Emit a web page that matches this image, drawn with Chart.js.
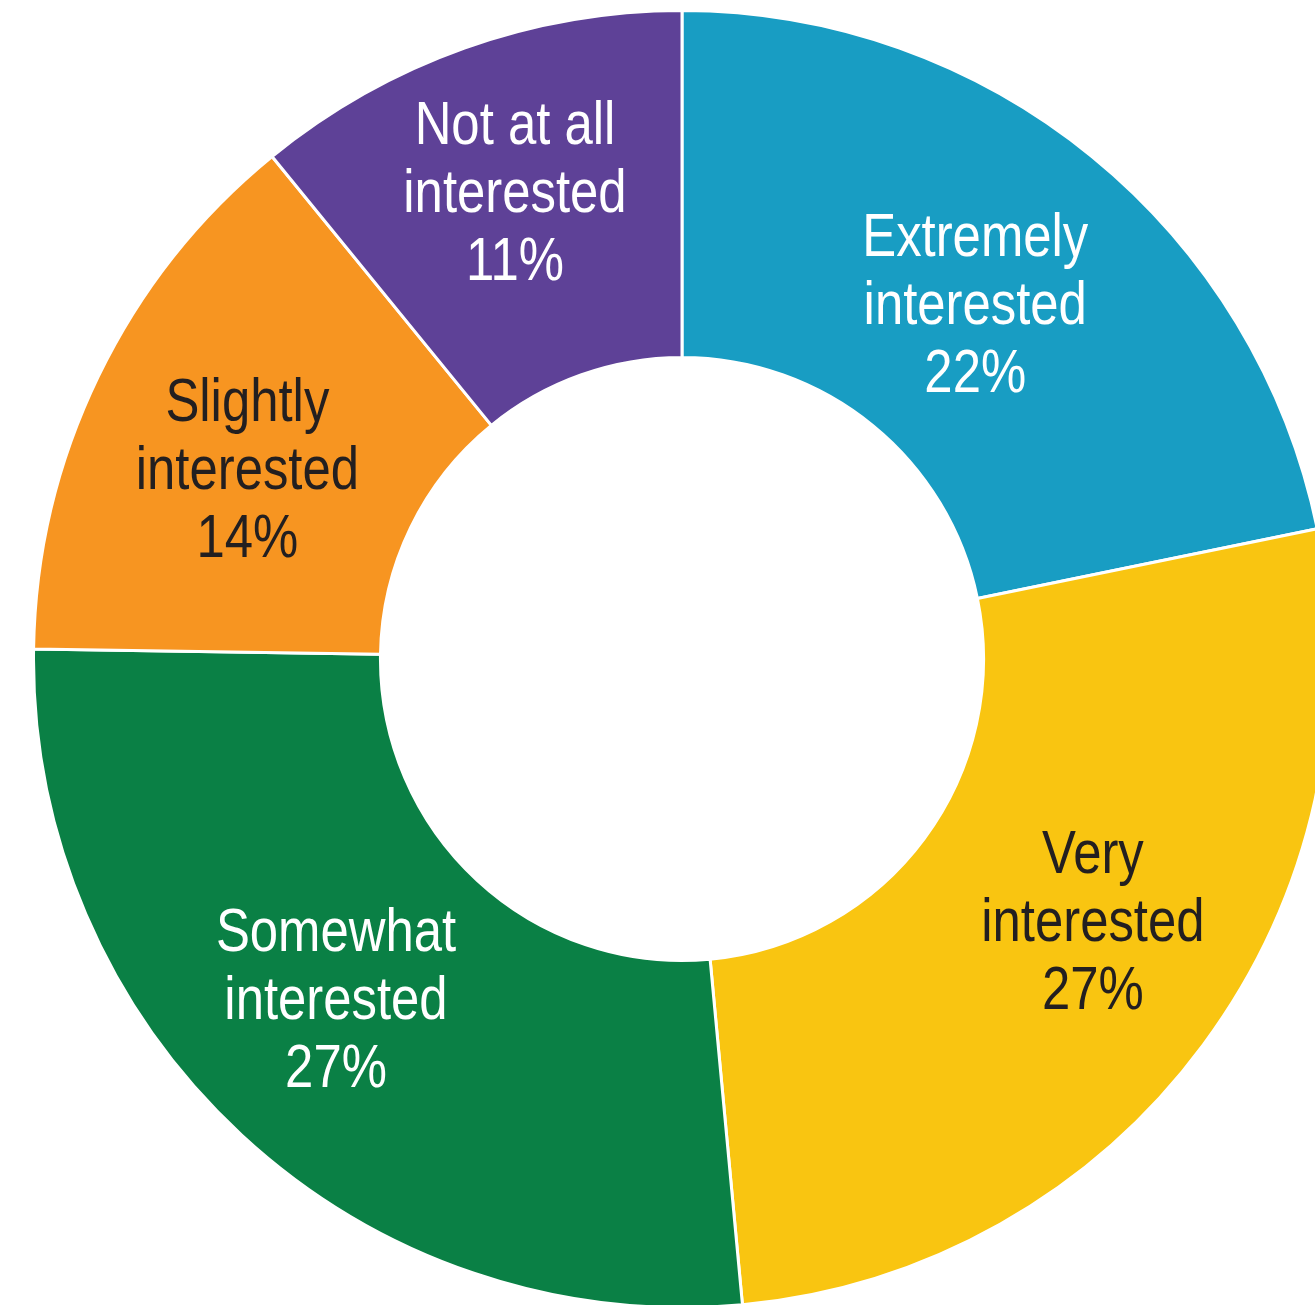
<!DOCTYPE html>
<html>
<head>
<meta charset="utf-8">
<script src="https://cdn.jsdelivr.net/npm/chart.js@4.4.1/dist/chart.umd.min.js"></script>
<style>
    html, body { margin: 0; padding: 0; background: #fff; overflow: hidden; }
    #frame { position: relative; width: 1315px; height: 1305px; overflow: hidden; }
    #holder { position: absolute; left: 32px; top: 9px; width: 1300px; height: 1300px; }
</style>
</head>
<body>
<div id="frame">
    <div id="holder"><canvas id="interestChart" width="1300" height="1300"></canvas></div>
</div>
<script>
// данные с картинки
const categories = ['Extremely interested', 'Very interested', 'Somewhat interested', 'Slightly interested', 'Not at all interested'];
const labelLines = [
    ['Extremely', 'interested'],
    ['Very', 'interested'],
    ['Somewhat', 'interested'],
    ['Slightly', 'interested'],
    ['Not at all', 'interested']
];
const shares = [22, 27, 27, 14, 11];
const sliceColors = ['#189dc3', '#f9c511', '#0a8045', '#f79521', '#5e4197'];
const textColors = ['#ffffff', '#231f20', '#ffffff', '#231f20', '#ffffff'];

// небольшие сдвиги подписей (градусы / пиксели)
const labelAngleShift = [0.6, -3.7, 2.5, -2.6, -0.2];
const labelRadiusShift = [-17, 14, 12, -2, 18];

/**
 * Подписи внутри сегментов
 */
const sliceLabels = {
    id: 'sliceLabels',
    afterDatasetsDraw(chart) {
        const ctx = chart.ctx;
        const meta = chart.getDatasetMeta(0);
        ctx.save();
        ctx.font = '62px "Liberation Sans", Arial, sans-serif';
        ctx.textAlign = 'center';
        ctx.textBaseline = 'middle';
        meta.data.forEach((arc, i) => {
            const p = arc.getProps(['x', 'y', 'startAngle', 'endAngle', 'innerRadius', 'outerRadius'], true);
            const mid = (p.startAngle + p.endAngle) / 2 + labelAngleShift[i] * Math.PI / 180;
            const r = (p.innerRadius + p.outerRadius) / 2 + labelRadiusShift[i];
            const cx = p.x + Math.cos(mid) * r;
            const cy = p.y + Math.sin(mid) * r;
            const lines = [...labelLines[i], shares[i] + '%'];
            const lh = 68;
            ctx.fillStyle = textColors[i];
            lines.forEach((t, k) => {
                ctx.save();
                ctx.translate(cx, cy + (k - (lines.length - 1) / 2) * lh);
                ctx.scale(0.82, 1); // шрифт поуже, как в оригинале
                ctx.fillText(t, 0, 0);
                ctx.restore();
            });
        });
        ctx.restore();
    }
};

new Chart(document.getElementById('interestChart').getContext('2d'), {
    type: 'doughnut',
    data: {
        labels: categories,
        datasets: [{
            data: shares,
            backgroundColor: sliceColors,
            borderColor: '#ffffff',
            borderWidth: 3
        }]
    },
    options: {
        responsive: false,
        animation: false,
        cutout: '46.5%',
        layout: { padding: 0 },
        plugins: {
            legend: { display: false },
            tooltip: { enabled: false }
        }
    },
    plugins: [sliceLabels]
});
</script>
</body>
</html>
